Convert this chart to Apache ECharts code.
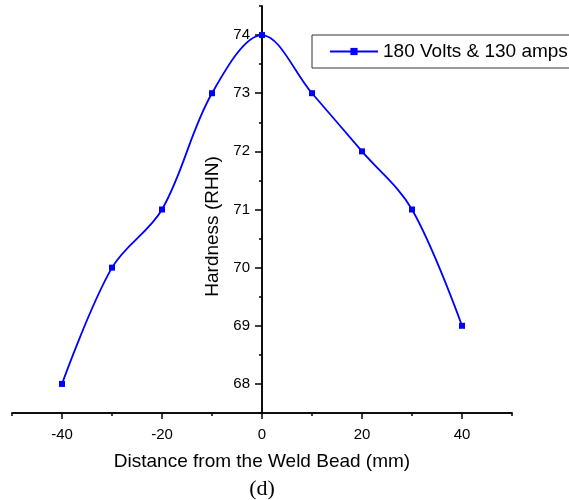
<!DOCTYPE html>
<html>
<head>
<meta charset="utf-8">
<script src="https://cdn.jsdelivr.net/npm/echarts@6/dist/echarts.min.js"></script>
<style>
  html, body { margin: 0; padding: 0; background: #fff; }
  #chart { width: 569px; height: 500px; }
</style>
</head>
<body>
<div id="chart"></div>
<script>
// Hardness profile across the weld bead
const distances = [-40, -30, -20, -10, 0, 10, 20, 30, 40];
const hardness = [68, 70, 71, 73, 74, 73, 72, 71, 69];
const seriesName = '180 Volts & 130 amps';
const xMajorTicks = [-40, -20, 0, 20, 40];
const yMajorTicks = [68, 69, 70, 71, 72, 73, 74];

const FONT = '"Liberation Sans", Arial, sans-serif';
const AXIS_COLOR = '#000';
const axisLineStyle = { color: AXIS_COLOR, width: 1.5 };

// plot area and x range; the vertical axis is drawn through x = 0
const GRID = { left: 12, right: 57, top: 6, bottom: 87 };
const CHART_W = 569;
const X_MIN = -50, X_MAX = 50;
const plotW = CHART_W - GRID.left - GRID.right;
const yAxisOffset = -plotW * (0 - X_MIN) / (X_MAX - X_MIN);

const chart = echarts.init(document.getElementById('chart'), null, { renderer: 'canvas' });

chart.setOption({
  animation: false,
  backgroundColor: '#fff',
  grid: Object.assign({ containLabel: false, outerBoundsMode: 'none' }, GRID),
  legend: {
    data: [seriesName],
    left: 312,
    top: 35,
    orient: 'horizontal',
    padding: [7, 30, 7, 17],
    itemWidth: 48,
    itemHeight: 9,
    borderColor: '#333',
    borderWidth: 1,
    textStyle: { fontFamily: FONT, fontSize: 19, color: '#000' }
  },
  xAxis: [
    {
      // minor ticks every 10 mm
      type: 'value', min: X_MIN, max: X_MAX, interval: 10, position: 'bottom',
      axisLine: { onZero: false, lineStyle: axisLineStyle },
      axisTick: { show: true, length: 3, lineStyle: axisLineStyle },
      axisLabel: { show: false },
      splitLine: { show: false }
    },
    {
      // major ticks, labels and title
      type: 'value', min: X_MIN, max: X_MAX, position: 'bottom',
      axisLine: { show: true, onZero: false, lineStyle: axisLineStyle },
      axisTick: { show: true, customValues: xMajorTicks, length: 6, lineStyle: axisLineStyle },
      axisLabel: { customValues: xMajorTicks, margin: 14, fontFamily: FONT, fontSize: 15, color: '#000' },
      splitLine: { show: false },
      name: 'Distance from the Weld Bead (mm)',
      nameLocation: 'middle',
      nameGap: 39,
      nameTextStyle: { fontFamily: FONT, fontSize: 19, color: '#000' }
    }
  ],
  yAxis: [
    {
      // minor ticks every 0.5
      type: 'value', min: 67.5, max: 74.5, interval: 0.5, position: 'left', offset: yAxisOffset,
      axisLine: { onZero: false, lineStyle: axisLineStyle },
      axisTick: { show: true, length: 3, lineStyle: axisLineStyle },
      axisLabel: { show: false },
      splitLine: { show: false }
    },
    {
      // major ticks, labels and title
      type: 'value', min: 67.5, max: 74.5, position: 'left', offset: yAxisOffset,
      axisLine: { show: true, onZero: false, lineStyle: axisLineStyle },
      axisTick: { show: true, customValues: yMajorTicks, length: 7, lineStyle: axisLineStyle },
      axisLabel: { customValues: yMajorTicks, margin: 12, fontFamily: FONT, fontSize: 15, color: '#000' },
      splitLine: { show: false },
      name: 'Hardness (RHN)',
      nameLocation: 'middle',
      nameGap: 40,
      nameTextStyle: { fontFamily: FONT, fontSize: 19, color: '#000', padding: [0, 34, 0, 0] }
    }
  ],
  graphic: [
    {
      type: 'text',
      x: 262,
      y: 489,
      style: {
        text: '(d)',
        fontFamily: '"Liberation Serif", "Times New Roman", serif',
        fontSize: 22,
        fill: '#000',
        align: 'center',
        verticalAlign: 'middle'
      }
    }
  ],
  series: [
    {
      name: seriesName,
      type: 'line',
      xAxisIndex: 0,
      yAxisIndex: 0,
      data: distances.map((d, i) => [d, hardness[i]]),
      smooth: 0.35,
      symbol: 'rect',
      symbolSize: 6,
      showAllSymbol: true,
      lineStyle: { color: '#0000ff', width: 1.8 },
      itemStyle: { color: '#0000ff' }
    }
  ]
});
</script>
</body>
</html>
